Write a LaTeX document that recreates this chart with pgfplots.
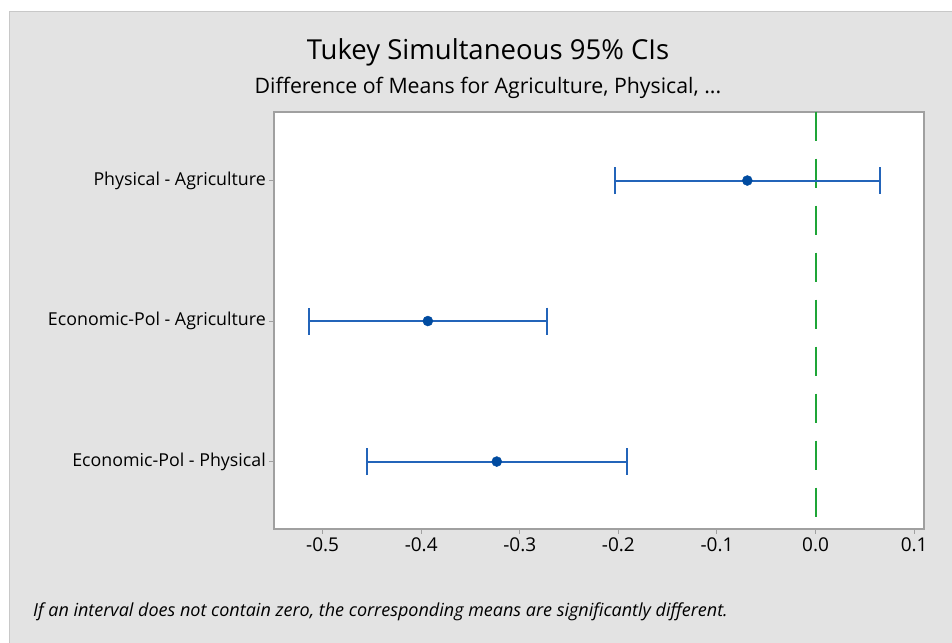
\documentclass[border=0pt]{standalone}
\usepackage{pgfplots}
\pgfplotsset{compat=1.18}
\usepackage{fontspec}
\setmainfont{Open Sans}
\definecolor{bgpanel}{RGB}{227,227,227}
\definecolor{panelborder}{RGB}{200,200,200}
\definecolor{framegray}{RGB}{160,160,160}
\definecolor{ciblue}{RGB}{35,100,185}
\definecolor{meanblue}{RGB}{0,75,160}
\definecolor{refgreen}{RGB}{30,165,55}
\begin{document}
\begin{tikzpicture}
\useasboundingbox (0,0) rectangle (952bp,643bp);
\fill[white] (0,0) rectangle (952bp,643bp);
\fill[bgpanel] (9bp,0) rectangle (952bp,632bp);
\draw[panelborder, line width=1.5bp] (9.5bp,0) -- (9.5bp,631.5bp) -- (952bp,631.5bp);
\node[anchor=base, font=\fontsize{27.5bp}{32bp}\selectfont] at (488bp,583bp) {Tukey Simultaneous 95\% CIs};
\node[anchor=base, font=\fontsize{21.3bp}{24bp}\selectfont] at (488bp,549bp) {Difference of Means for Agriculture, Physical, ...};
\node[anchor=base west, font=\fontsize{18bp}{20bp}\selectfont\itshape, inner sep=0pt] at (33bp,27bp) {If an interval does not contain zero, the corresponding means are significantly different.};
\begin{axis}[
  at={(274.3bp,114bp)}, anchor=south west,
  scale only axis, width=649.2bp, height=417.3bp,
  xmin=-0.549, xmax=0.1095, ymin=0.52, ymax=3.49,
  axis background/.style={fill=white},
  axis line style={framegray, line width=2bp},
  xtick={-0.5,-0.4,-0.3,-0.2,-0.1,0,0.1},
  xticklabels={-0.5,-0.4,-0.3,-0.2,-0.1,0.0,0.1},
  ytick={1,2,3},
  yticklabels={Economic-Pol - Physical, Economic-Pol - Agriculture, Physical - Agriculture},
  xtick pos=lower, ytick pos=left,
  tick align=outside, major tick length=5bp,
  tick style={framegray, line width=1bp},
  xticklabel style={font=\fontsize{19bp}{21bp}\selectfont},
  yticklabel style={font=\fontsize{17.8bp}{20bp}\selectfont},
  clip=false,
]
\addplot[draw=refgreen, line width=2bp, dash pattern=on 29bp off 18bp] coordinates {(0,3.49) (0,0.52)};
\addplot[ciblue, only marks, mark=*, mark options={meanblue, fill=meanblue, mark size=5bp},
  error bars/.cd, x dir=both, x explicit,
  error bar style={ciblue, line width=2bp},
  error mark=|,
  error mark options={ciblue, line width=2bp, mark size=13.5bp}]
  coordinates {
  (-0.0692,3) +- (0.1341,0)
  (-0.39325,2) +- (0.12045,0)
  (-0.32335,1) +- (0.13185,0)
  };
\end{axis}
\end{tikzpicture}
\end{document}
